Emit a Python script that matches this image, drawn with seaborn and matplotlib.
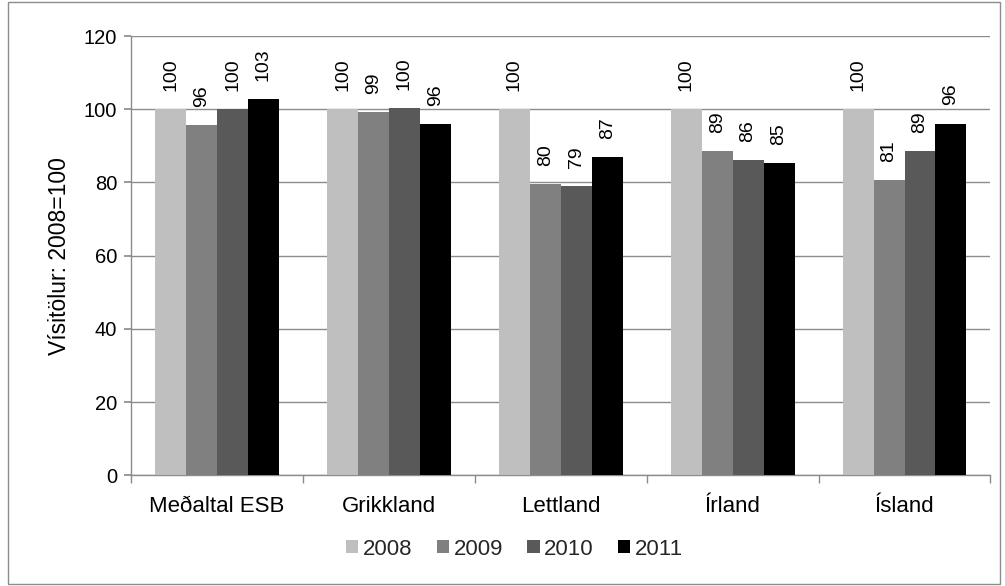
import matplotlib
matplotlib.use("Agg")
import matplotlib.pyplot as plt
import seaborn as sns
import pandas as pd
import numpy as np

categories = ["Meðaltal ESB", "Grikkland", "Lettland", "Írland", "Ísland"]
years = ["2008", "2009", "2010", "2011"]
v2008 = [100.0, 100.0, 100.0, 100.0, 100.0]
v2009 = [95.7, 99.2, 79.6, 88.7, 80.6]
v2010 = [100.0, 100.3, 79.1, 86.0, 88.6]
v2011 = [102.7, 96.0, 86.9, 85.2, 96.1]
colors = ["#bfbfbf", "#808080", "#595959", "#000000"]

rows = []
for yr, vals in zip(years, [v2008, v2009, v2010, v2011]):
    for c, v in zip(categories, vals):
        rows.append({"land": c, "ár": yr, "gildi": v})
df = pd.DataFrame(rows)

sns.set_theme(style="white")
plt.rcParams["font.family"] = ["Liberation Sans", "DejaVu Sans"]

fig = plt.figure(figsize=(10.05, 5.86), dpi=100)
ax = fig.add_axes([0.1305, 0.189, 0.855, 0.7495])

sns.barplot(data=df, x="land", y="gildi", hue="ár", order=categories,
            hue_order=years, palette=colors, width=0.72, saturation=1,
            edgecolor="none", ax=ax, zorder=3)

for cont in ax.containers:
    ax.bar_label(cont, labels=[f"{b.get_height():.0f}" for b in cont],
                 rotation=90, padding=13, fontsize=14, color="#000000")

ax.set_ylim(0, 120)
ax.set_yticks(np.arange(0, 121, 20))
ax.set_xlim(-0.5, len(categories) - 0.5)
ax.yaxis.grid(True, color="#8c8c8c", linewidth=1.0, zorder=0)
ax.set_axisbelow(True)
ax.set_xlabel("")
ax.set_ylabel("Vísitölur: 2008=100", fontsize=16.5, color="#000000", labelpad=9)

for s in ["top", "right"]:
    ax.spines[s].set_visible(False)
for s in ["left", "bottom"]:
    ax.spines[s].set_color("#8c8c8c")
    ax.spines[s].set_linewidth(1.0)

ax.tick_params(axis="y", which="major", left=True, length=5, color="#8c8c8c",
               labelsize=14.5, labelcolor="#000000", pad=5)
ax.tick_params(axis="x", which="major", bottom=False, labelsize=16,
               labelcolor="#000000", pad=9)
ax.set_xticks(np.arange(-0.5, len(categories), 1.0), minor=True)
ax.tick_params(axis="x", which="minor", bottom=True, length=6,
               color="#8c8c8c", width=1.0)

handles, labels = ax.get_legend_handles_labels()
fig.legend(handles, labels, loc="center", bbox_to_anchor=(0.512, 0.063),
           ncol=4, frameon=False, fontsize=16, handlelength=0.55,
           handleheight=0.55, handletextpad=0.2, columnspacing=1.1)
ax.get_legend().remove() if ax.get_legend() else None

# Outer chart frame
fig.patches.append(plt.Rectangle((0.008, 0.003), 0.987, 0.994,
                                 transform=fig.transFigure, fill=False,
                                 edgecolor="#8c8c8c", linewidth=1.0))

fig.savefig("out.png", dpi=100)
